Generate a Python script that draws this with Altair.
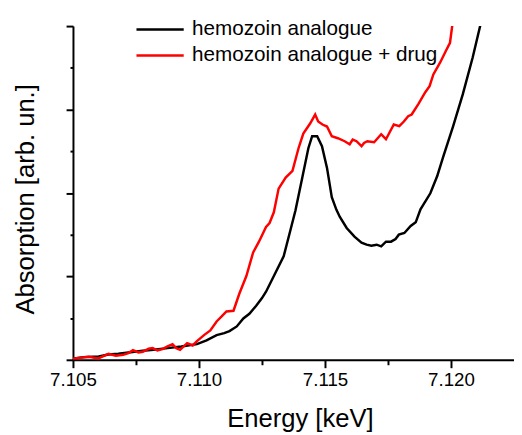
import altair as alt
import pandas as pd

series_names = ["hemozoin analogue", "hemozoin analogue + drug"]
series_colors = ["#000000", "#ff0000"]

energy_black = [7.10500, 7.10540, 7.10602, 7.10640, 7.10680, 7.10720, 7.10777, 7.10820, 7.10875, 7.10930,
                7.10992, 7.11030, 7.11070, 7.11100, 7.11121, 7.11150, 7.11176, 7.11200, 7.11227, 7.11250,
                7.11266, 7.11305, 7.11336, 7.11363, 7.11383, 7.11410, 7.11434, 7.11449, 7.11469, 7.11488,
                7.11508, 7.11527, 7.11545, 7.11559, 7.11586, 7.11617, 7.11645, 7.11665, 7.11684, 7.11705,
                7.11723, 7.11742, 7.11762, 7.11780, 7.11793, 7.11815, 7.11840, 7.11860, 7.11879, 7.11918,
                7.11945, 7.11969, 7.12008, 7.12047, 7.12086, 7.12125]
abs_black = [0.003, 0.008, 0.010, 0.016, 0.018, 0.022, 0.027, 0.030, 0.035, 0.040,
             0.047, 0.058, 0.074, 0.080, 0.086, 0.100, 0.124, 0.138, 0.162, 0.185,
             0.204, 0.263, 0.310, 0.389, 0.448, 0.546, 0.634, 0.670, 0.670, 0.640,
             0.575, 0.487, 0.450, 0.428, 0.395, 0.369, 0.351, 0.345, 0.342, 0.345,
             0.340, 0.354, 0.354, 0.362, 0.375, 0.380, 0.401, 0.412, 0.451, 0.499,
             0.550, 0.608, 0.699, 0.796, 0.906, 1.030]

energy_red = [7.10500, 7.10530, 7.10563, 7.10600, 7.10641, 7.10670, 7.10699, 7.10720, 7.10738, 7.10760,
              7.10777, 7.10800, 7.10816, 7.10835, 7.10855, 7.10875, 7.10895, 7.10910, 7.10925, 7.10953,
              7.10975, 7.10992, 7.11020, 7.11045, 7.11070, 7.11090, 7.11109, 7.11137, 7.11160, 7.11188,
              7.11215, 7.11238, 7.11266, 7.11280, 7.11297, 7.11316, 7.11344, 7.11371, 7.11395, 7.11414,
              7.11441, 7.11461, 7.11473, 7.11490, 7.11508, 7.11527, 7.11551, 7.11578, 7.11598, 7.11610,
              7.11625, 7.11645, 7.11655, 7.11668, 7.11695, 7.11723, 7.11742, 7.11773, 7.11795, 7.11813,
              7.11830, 7.11844, 7.11871, 7.11898, 7.11915, 7.11930, 7.11957, 7.11980, 7.11996, 7.12010]
abs_red = [0.003, 0.006, 0.009, 0.004, 0.018, 0.012, 0.015, 0.020, 0.029, 0.022,
           0.024, 0.033, 0.035, 0.028, 0.032, 0.040, 0.047, 0.035, 0.030, 0.050,
           0.043, 0.056, 0.074, 0.088, 0.115, 0.130, 0.145, 0.147, 0.198, 0.251,
           0.322, 0.354, 0.398, 0.410, 0.442, 0.513, 0.546, 0.566, 0.634, 0.678,
           0.708, 0.735, 0.714, 0.705, 0.699, 0.670, 0.664, 0.655, 0.646, 0.660,
           0.655, 0.640, 0.650, 0.655, 0.652, 0.676, 0.661, 0.705, 0.700, 0.714,
           0.730, 0.735, 0.767, 0.802, 0.820, 0.855, 0.891, 0.926, 0.950, 1.030]

x_major = [7.105, 7.110, 7.115, 7.120]
x_minor = [7.1075, 7.1125, 7.1175]
y_major = [0.0, 0.25, 0.5, 0.75, 1.0]
y_minor = [0.125, 0.375, 0.625, 0.875]

rows = []
for e, a in zip(energy_black, abs_black):
    rows.append({"energy": e, "absorption": a, "series": series_names[0]})
for e, a in zip(energy_red, abs_red):
    rows.append({"energy": e, "absorption": a, "series": series_names[1]})
df = pd.DataFrame(rows)

FONT = "Liberation Sans"
xscale = alt.Scale(domain=[7.105, 7.1225], nice=False, zero=False)
yscale = alt.Scale(domain=[0, 1], nice=False, zero=False)

lines = alt.Chart(df).mark_line(clip=True, strokeWidth=2.5).encode(
    x=alt.X("energy:Q", scale=xscale, axis=alt.Axis(
        orient="bottom", values=x_major, format=".3f", title="Energy [keV]",
        grid=False, domainColor="black", domainWidth=2, tickColor="black", tickWidth=2,
        tickSize=8, labelFont=FONT, labelFontSize=19, labelColor="black",
        labelPadding=18, labelBaseline="alphabetic", labelFlush=False,
        titleFont=FONT, titleFontSize=26, titleFontWeight="normal", titleColor="black",
        titleX=230.5, titleY=68, titleAlign="center", titleBaseline="alphabetic")),
    y=alt.Y("absorption:Q", scale=yscale, axis=alt.Axis(
        orient="left", values=y_major, labels=False, title="Absorption [arb. un.]",
        grid=False, domainColor="black", domainWidth=2, tickColor="black", tickWidth=2,
        tickSize=7, titleFont=FONT, titleFontSize=26, titleFontWeight="normal",
        titleColor="black", titleX=-40, titleY=175.5, titleAngle=270,
        titleAlign="center", titleBaseline="alphabetic")),
    color=alt.Color("series:N", scale=alt.Scale(domain=series_names, range=series_colors),
                    legend=alt.Legend(orient="none", legendX=63, legendY=-7.5, title=None,
                                      symbolType="stroke", symbolSize=2304, symbolStrokeWidth=2.5,
                                      labelFont=FONT, labelFontSize=21, labelColor="black",
                                      labelLimit=0, labelOffset=7, clipHeight=22, rowPadding=4.4,
                                      padding=0)),
)

minor = alt.Chart(df).mark_point(opacity=0).encode(
    x=alt.X("energy:Q", scale=xscale, axis=alt.Axis(
        orient="bottom", values=x_minor, labels=False, title=None, grid=False,
        domain=False, tickColor="black", tickWidth=2, tickSize=5)),
    y=alt.Y("absorption:Q", scale=yscale, axis=alt.Axis(
        orient="left", values=y_minor, labels=False, title=None, grid=False,
        domain=False, tickColor="black", tickWidth=2, tickSize=3)),
)

chart = alt.layer(lines, minor).resolve_axis(x="independent", y="independent").properties(
    width=448, height=339,
    autosize=alt.AutoSizeParams(type="none"),
    padding={"left": 66, "top": 15, "right": 0, "bottom": 73},
).configure_view(stroke=None)

chart.save("out.html", embed_options={"renderer": "svg", "actions": False})
